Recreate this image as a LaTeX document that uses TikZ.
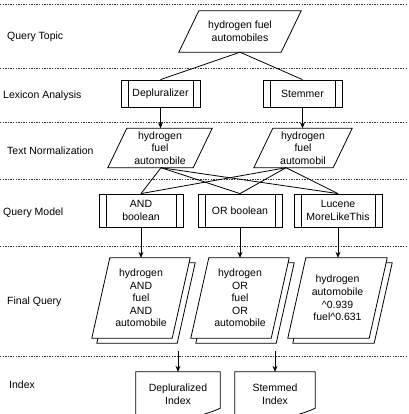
\documentclass[tikz,border=0pt]{standalone}
\usepackage{fontspec}
\setmainfont{Liberation Sans}
\usetikzlibrary{arrows.meta,calc}
\pgfdeclarelayer{background}
\pgfsetlayers{background,main}
\newcommand\drawpara[4]{%
  \draw[shapeline,fill=white] ([xshift=#3+#2,yshift=#4]#1.north west) -- ([xshift=#3+#2,yshift=#4]#1.north east) -- ([xshift=#3-#2,yshift=#4]#1.south east) -- ([xshift=#3-#2,yshift=#4]#1.south west) -- cycle;}
\newcommand\drawdoc[1]{%
  \draw[shapeline] ([yshift=-6pt]#1.south west) -- (#1.north west) -- (#1.north east) -- ([yshift=8pt]#1.south east)
   .. controls ([xshift=-25pt,yshift=-4pt]#1.south east) and ([xshift=25pt,yshift=-4pt]#1.south west) .. ([yshift=-6pt]#1.south west);}
\tikzset{
  x=1pt, y=-1pt,
  every node/.style={font=\fontsize{10.5}{12.6}\selectfont, align=center, inner sep=0pt},
  shapeline/.style={line width=0.8pt},
  lbl/.style={anchor=west},
  plain/.style={minimum height=#1},
  proc/.style={draw, line width=0.8pt, minimum height=#1,
    path picture={\draw[line width=0.8pt]
      ([xshift=7pt]path picture bounding box.north west) -- ([xshift=7pt]path picture bounding box.south west)
      ([xshift=-7pt]path picture bounding box.north east) -- ([xshift=-7pt]path picture bounding box.south east);}},
  conn/.style={line width=0.8pt},
  arr/.style={line width=0.8pt, -{Stealth[length=6pt,width=5pt]}},
  sep/.style={line width=0.6pt, black!80, dash pattern=on 1.3pt off 1.3pt},
}
\begin{document}
\begin{tikzpicture}
\useasboundingbox (0,0) rectangle (408,414);
\clip (0,0) rectangle (408,414);
% separators
\foreach \yy in {4.5,68,122,179,246,356} \draw[sep] (0,\yy) -- (408,\yy);
% row labels
\node[lbl] (l1) at (7,37) {Query Topic};
\node[lbl] (l2) at (3,96) {Lexicon Analysis};
\node[lbl] (l3) at (7,151) {Text Normalization};
\node[lbl] (l4) at (3,213) {Query Model};
\node[lbl] (l5) at (7,302) {Final Query};
\node[lbl] (l6) at (9,385) {Index};
% nodes
\node[plain=41pt, minimum width=102pt] (qt) at (240,31.5) {hydrogen fuel\\automobiles};
\node[proc=27pt, minimum width=79pt] (dep) at (160.5,93.5) {Depluralizer};
\node[proc=27pt, minimum width=79pt] (stem) at (302.5,93.5) {Stemmer};
\node[plain=39pt, minimum width=85pt] (tn1) at (160,148) {hydrogen\\fuel\\automobile};
\node[plain=39pt, minimum width=79pt] (tn2) at (303,148) {hydrogen\\fuel\\automobil};
\node[proc=33pt, minimum width=84pt] (qand) at (141,210.5) {AND\\boolean};
\node[proc=33pt, minimum width=84pt] (qor) at (240,210.5) {OR boolean};
\node[proc=33pt, minimum width=88pt] (qluc) at (338,210.5) {Lucene\\MoreLikeThis};
\node[plain=80pt, minimum width=80pt] (fq1) at (141,298) {hydrogen\\AND\\fuel\\AND\\automobile};
\node[plain=80pt, minimum width=80pt] (fq2) at (240,298) {hydrogen\\OR\\fuel\\OR\\automobile};
\node[plain=80pt, minimum width=81pt] (fq3) at (337.5,298) {hydrogen\\automobile\\\textasciicircum 0.939\\fuel\textasciicircum 0.631};
\node[plain=44pt, minimum width=84pt] (ix1) at (178,394) {Depluralized\\Index};
\node[plain=44pt, minimum width=80pt] (ix2) at (275,394) {Stemmed\\Index};
\coordinate (s1) at (178,351);
\coordinate (s2) at (275,351);
% shapes
\begin{pgfonlayer}{background}
\drawpara{qt}{10pt}{0pt}{0pt}
\drawpara{tn1}{9.5pt}{0pt}{0pt}
\drawpara{tn2}{9.5pt}{0pt}{0pt}
\drawpara{fq1}{9pt}{5pt}{-5pt}
\drawpara{fq1}{9pt}{0pt}{0pt}
\drawpara{fq2}{9pt}{5pt}{-5pt}
\drawpara{fq2}{9pt}{0pt}{0pt}
\drawpara{fq3}{9pt}{5pt}{-5pt}
\drawpara{fq3}{9pt}{0pt}{0pt}
\drawdoc{ix1}
\drawdoc{ix2}
\end{pgfonlayer}
% connectors
\draw[conn] (qt.south) -- (dep.north);
\draw[conn] (qt.south) -- (stem.north);
\draw[arr] (dep.south) -- (dep.south |- tn1.north);
\draw[arr] (stem.south) -- (stem.south |- tn2.north);
\draw[conn] ([xshift=1pt]tn1.south) -- (qand.north);
\draw[conn] ([xshift=1pt]tn1.south) -- (qor.north);
\draw[conn] ([xshift=1pt]tn1.south) -- (qluc.north);
\draw[conn] ([xshift=-17pt]tn2.south) -- (qand.north);
\draw[conn] ([xshift=-17pt]tn2.south) -- (qor.north);
\draw[conn] ([xshift=-17pt]tn2.south) -- (qluc.north);
\draw[arr] (qand.south) -- (fq1.north);
\draw[arr] (qor.south) -- (fq2.north);
\draw[arr] (qluc.south) -- (qluc.south |- fq3.north);
\draw[arr] (s1) -- (ix1.north);
\draw[arr] (s2) -- (ix2.north);
\end{tikzpicture}
\end{document}
